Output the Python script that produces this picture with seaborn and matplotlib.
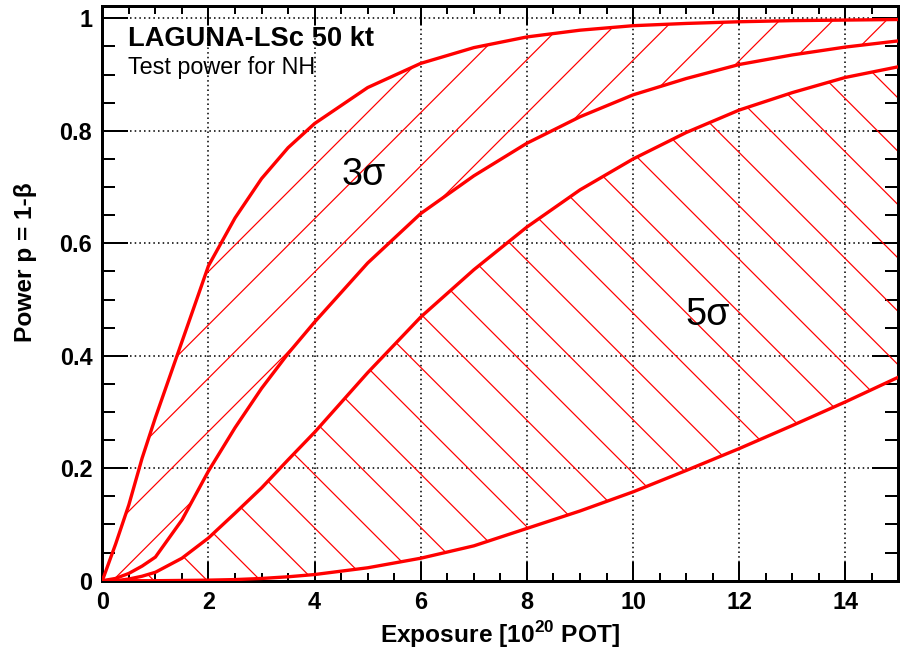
import matplotlib
matplotlib.use("Agg")
import matplotlib.pyplot as plt
from matplotlib.ticker import MultipleLocator, FixedLocator
import pandas as pd
import seaborn as sns

# Exposure in units of 10^20 protons on target
exposure = [0, 0.25, 0.5, 0.75, 1, 1.5, 2, 2.5, 3, 3.5, 4, 5, 6, 7, 8, 9,
            10, 11, 12, 13, 14, 15]

# Power of the test for the normal hierarchy, band edges
power_3sigma_high = [0, 0.065, 0.135, 0.218, 0.29, 0.425, 0.56, 0.645, 0.715,
                     0.77, 0.813, 0.877, 0.92, 0.948, 0.967, 0.979, 0.987,
                     0.991, 0.994, 0.996, 0.997, 0.998]
power_3sigma_low = [0, 0.004, 0.013, 0.026, 0.042, 0.108, 0.195, 0.272, 0.342,
                    0.404, 0.46, 0.565, 0.653, 0.72, 0.778, 0.825, 0.864,
                    0.893, 0.918, 0.935, 0.949, 0.96]
power_5sigma_high = [0, 0.0, 0.003, 0.008, 0.015, 0.04, 0.076, 0.12, 0.165,
                     0.215, 0.264, 0.37, 0.469, 0.553, 0.629, 0.695, 0.75,
                     0.797, 0.837, 0.868, 0.895, 0.914]
power_5sigma_low = [0, 0, 0, 0, 0, 0.0005, 0.001, 0.002, 0.004, 0.007, 0.011,
                    0.023, 0.04, 0.062, 0.093, 0.124, 0.158, 0.196, 0.235,
                    0.276, 0.318, 0.362]

x_ticks = [0, 2, 4, 6, 8, 10, 12, 14]
y_ticks = [0, 0.2, 0.4, 0.6, 0.8, 1.0]
y_tick_labels = ["0", "0.2", "0.4", "0.6", "0.8", "1"]

bands = pd.DataFrame({
    "exposure": exposure,
    "p3_high": power_3sigma_high,
    "p3_low": power_3sigma_low,
    "p5_high": power_5sigma_high,
    "p5_low": power_5sigma_low,
})

sns.set_style("ticks")
plt.rcParams["font.family"] = ["Liberation Sans", "DejaVu Sans"]
plt.rcParams["mathtext.fontset"] = "custom"
plt.rcParams["mathtext.rm"] = "Liberation Sans"
plt.rcParams["mathtext.bf"] = "Liberation Sans:bold"
plt.rcParams["hatch.linewidth"] = 0.55
plt.rcParams["hatch.color"] = "red"
plt.rcParams["text.color"] = "black"
plt.rcParams["axes.labelcolor"] = "black"
plt.rcParams["xtick.color"] = "black"
plt.rcParams["ytick.color"] = "black"

DPI = 160
fig = plt.figure(figsize=(907 / DPI, 653 / DPI), dpi=DPI)
ax = fig.add_axes([0.1128, 0.1107, 0.8778, 0.8801])

red = "#ff0000"

# hatched confidence bands
ax.fill_between(bands["exposure"], bands["p3_low"], bands["p3_high"],
                facecolor="none", edgecolor=red, hatch="/", linewidth=0,
                zorder=2)
ax.fill_between(bands["exposure"], bands["p5_low"], bands["p5_high"],
                facecolor="none", edgecolor=red, hatch="\\", linewidth=0,
                zorder=2)

for col in ["p3_high", "p3_low", "p5_high", "p5_low"]:
    sns.lineplot(data=bands, x="exposure", y=col, ax=ax, color=red,
                 linewidth=1.5, zorder=3, estimator=None, sort=False)

ax.set_xlim(0, 15)
ax.set_ylim(0, 1.022)

ax.xaxis.set_major_locator(FixedLocator(x_ticks))
ax.xaxis.set_minor_locator(MultipleLocator(0.5))
ax.yaxis.set_major_locator(FixedLocator(y_ticks))
ax.yaxis.set_minor_locator(MultipleLocator(0.05))
ax.set_yticklabels(y_tick_labels)

ax.grid(True, which="major", color="black", linestyle=(0, (1, 2)),
        linewidth=0.7)
ax.set_axisbelow(True)

for side in ["left", "right", "top", "bottom"]:
    ax.spines[side].set_visible(True)
    ax.spines[side].set_linewidth(1.35)
    ax.spines[side].set_color("black")

ax.tick_params(axis="x", which="major", direction="in", length=8.5,
               width=0.9, top=True, bottom=True, labelsize=10.5, pad=4.5,
               colors="black")
ax.tick_params(axis="x", which="minor", direction="in", length=3.8,
               width=0.9, top=True, bottom=True)
ax.tick_params(axis="y", which="major", direction="in", length=11.5,
               width=0.9, left=True, right=True, labelsize=10.5, pad=4.5,
               colors="black")
ax.tick_params(axis="y", which="minor", direction="in", length=6,
               width=0.9, left=True, right=True)
for lab in ax.get_xticklabels() + ax.get_yticklabels():
    lab.set_fontweight("bold")

ax.set_xlabel(r"Exposure [10$^{\mathbf{20}}$ POT]", fontsize=11,
              fontweight="bold")
ax.set_ylabel("Power p = 1-β", fontsize=11, fontweight="bold")
ax.xaxis.set_label_coords(0.5, -0.066)
ax.xaxis.label.set_verticalalignment("top")
ax.yaxis.set_label_coords(-0.082, 0.555)

ax.text(0.487, 0.9513, "LAGUNA-LSc 50 kt", fontsize=12.25, fontweight="bold",
        ha="left", va="baseline")
ax.text(0.49, 0.9004, "Test power for NH", fontsize=10.5,
        ha="left", va="baseline")
ax.text(4.506, 0.7036, "3σ", fontsize=17, ha="left", va="baseline")
ax.text(10.98, 0.4547, "5σ", fontsize=17, ha="left", va="baseline")

fig.savefig("out.png", dpi=DPI, facecolor="white")
